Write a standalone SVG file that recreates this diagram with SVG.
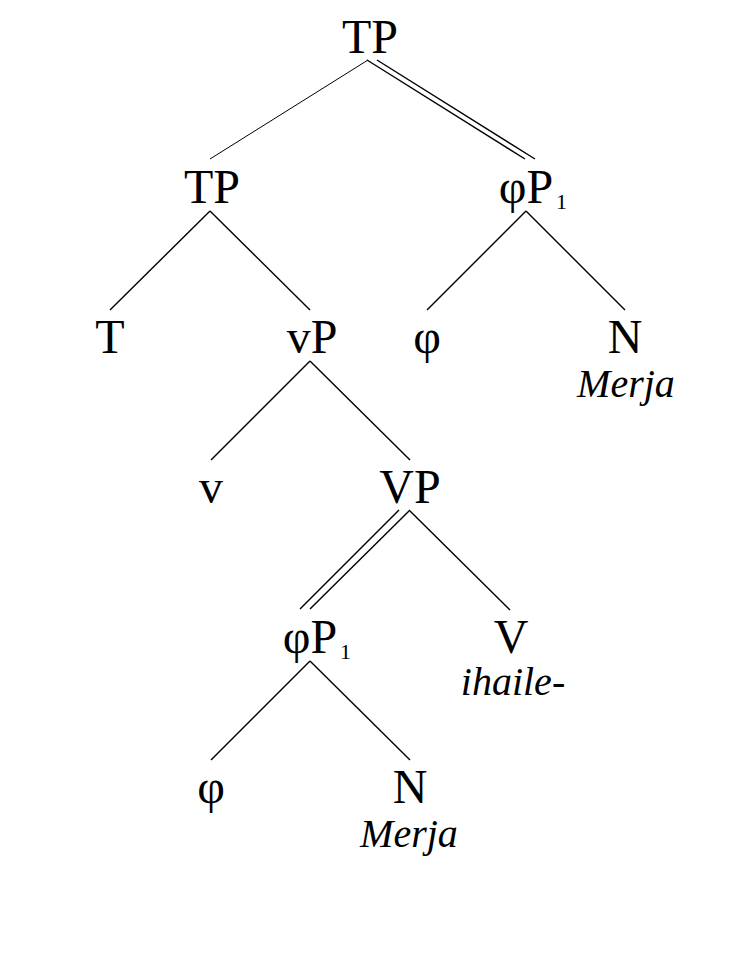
<svg xmlns="http://www.w3.org/2000/svg" width="736" height="970" viewBox="0 0 736 970">
  <style>
    .lbl { font-family: "Liberation Serif", "Times New Roman", serif; font-size: 48px; fill: #000; text-anchor: middle; }
    .sub { font-family: "Liberation Serif", "Times New Roman", serif; font-size: 22px; fill: #000; }
    .lex { font-family: "Liberation Serif", "Times New Roman", serif; font-size: 40px; font-style: italic; fill: #000; text-anchor: middle; }
    .edge { stroke: #000; stroke-width: 1.4; fill: none; }
    .thin { stroke: #000; stroke-width: 1; fill: none; }
  </style>
  <rect width="736" height="970" fill="#fff"/>

  <g id="connectors">
    <!-- TP (root) branches -->
    <line class="thin" x1="368" y1="60" x2="210" y2="159"/>
    <line class="edge" x1="367" y1="60" x2="525" y2="159"/>
    <line class="edge" x1="377" y1="60" x2="535" y2="159"/>
    <!-- TP -->
    <line class="edge" x1="210" y1="211" x2="110" y2="310"/>
    <line class="edge" x1="210" y1="211" x2="310" y2="310"/>
    <!-- φP1 (upper) -->
    <line class="edge" x1="526" y1="211" x2="427" y2="310"/>
    <line class="edge" x1="526" y1="211" x2="625" y2="310"/>
    <!-- vP -->
    <line class="edge" x1="310" y1="361" x2="211" y2="460"/>
    <line class="edge" x1="310" y1="361" x2="410" y2="460"/>
    <!-- VP -->
    <line class="edge" x1="399" y1="510" x2="300" y2="609"/>
    <line class="edge" x1="410" y1="510" x2="310" y2="609"/>
    <line class="edge" x1="410" y1="511" x2="510" y2="610"/>
    <!-- φP1 (lower) -->
    <line class="edge" x1="310" y1="661" x2="211" y2="760"/>
    <line class="edge" x1="310" y1="661" x2="410" y2="760"/>
  </g>

  <g id="tp-root"><text class="lbl" x="370" y="53">TP</text></g>
  <g id="tp"><text class="lbl" x="212" y="203">TP</text></g>
  <g id="phip-upper">
    <text class="lbl" x="526" y="203">φP</text>
    <text class="sub" x="556" y="209">1</text>
  </g>
  <g id="t-head"><text class="lbl" x="110" y="353">T</text></g>
  <g id="vp-little"><text class="lbl" x="312" y="353">vP</text></g>
  <g id="phi-upper"><text class="lbl" x="427" y="353">φ</text></g>
  <g id="n-upper">
    <text class="lbl" x="625" y="353">N</text>
    <text class="lex" x="626" y="397">Merja</text>
  </g>
  <g id="v-little"><text class="lbl" x="211" y="503">v</text></g>
  <g id="vp-big"><text class="lbl" x="410" y="503">VP</text></g>
  <g id="phip-lower">
    <text class="lbl" x="310" y="653">φP</text>
    <text class="sub" x="340" y="659">1</text>
  </g>
  <g id="v-big">
    <text class="lbl" x="511" y="653">V</text>
    <text class="lex" x="513" y="695">ihaile-</text>
  </g>
  <g id="phi-lower"><text class="lbl" x="211" y="803">φ</text></g>
  <g id="n-lower">
    <text class="lbl" x="410" y="803">N</text>
    <text class="lex" x="409" y="847">Merja</text>
  </g>
</svg>
